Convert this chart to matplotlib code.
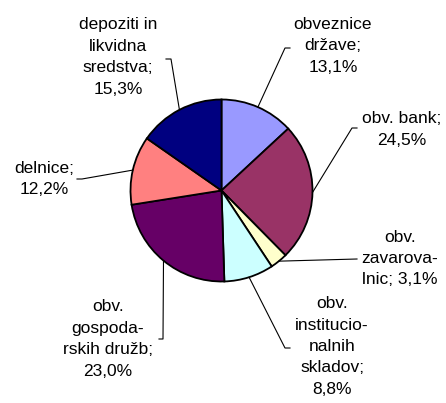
import numpy as np
import matplotlib
matplotlib.use("Agg")
import matplotlib.pyplot as plt

# ---- data ----
labels = ["obveznice\ndržave;", "obv. bank;", "obv.\nzavarova-\nlnic;", "obv.\ninstitucio-\nnalnih\nskladov;",
          "obv.\ngospoda-\nrskih družb;", "delnice;", "depoziti in\nlikvidna\nsredstva;"]
values = [13.1, 24.5, 3.1, 8.8, 23.0, 12.2, 15.3]
value_labels = ["13,1%", "24,5%", "3,1%", "8,8%", "23,0%", "12,2%", "15,3%"]
colors = ["#9999FF", "#993366", "#FFFFCC", "#CCFFFF", "#660066", "#FF8080", "#000080"]

W, H = 446, 403
fig = plt.figure(figsize=(W / 100, H / 100), dpi=100)
ax = fig.add_axes([0, 0, 1, 1])

def Y(y):
    return H - y

wedges, _ = ax.pie(values, colors=colors, startangle=90, counterclock=False,
                   center=(221.5, Y(190.5)), radius=91,
                   wedgeprops=dict(edgecolor="black", linewidth=1.3))
ax.set_xlim(0, W)
ax.set_ylim(0, H)
ax.set_aspect("equal")
ax.axis("off")

# label layout (image pixel coords): text center, elbow, line end
layout = [
    dict(tx=333, ty=46, elbow=(285, 48), end=(290, 48), sep="\n"),
    dict(tx=402, ty=129.5, elbow=(352, 128), end=(357, 128), sep="\n"),
    dict(tx=400, ty=258.5, elbow=(357, 259), end=(357, 259), sep=" "),
    dict(tx=332, ty=346.5, elbow=(285, 348), end=(290, 348), sep="\n"),
    dict(tx=108, ty=339, elbow=(163, 339), end=(159, 339), sep="\n"),
    dict(tx=44, ty=179, elbow=(82, 179), end=(77, 179), sep="\n"),
    dict(tx=118, ty=57, elbow=(171, 59), end=(166, 59), sep="\n"),
]

for w, lab, vl, lo in zip(wedges, labels, value_labels, layout):
    mid = np.deg2rad((w.theta1 + w.theta2) / 2)
    cx, cy = w.center
    px, py = cx + w.r * np.cos(mid), cy + w.r * np.sin(mid)
    ex, ey = lo["elbow"]
    nx, ny = lo["end"]
    ax.plot([px, ex, nx], [py, Y(ey), Y(ny)], color="black", lw=0.8)
    ax.text(lo["tx"], Y(lo["ty"]), lab + lo["sep"] + vl, ha="center", va="center",
            multialignment="center", fontsize=12.5, family="Liberation Sans",
            linespacing=1.53, color="black")

fig.savefig("out.png", dpi=100)
